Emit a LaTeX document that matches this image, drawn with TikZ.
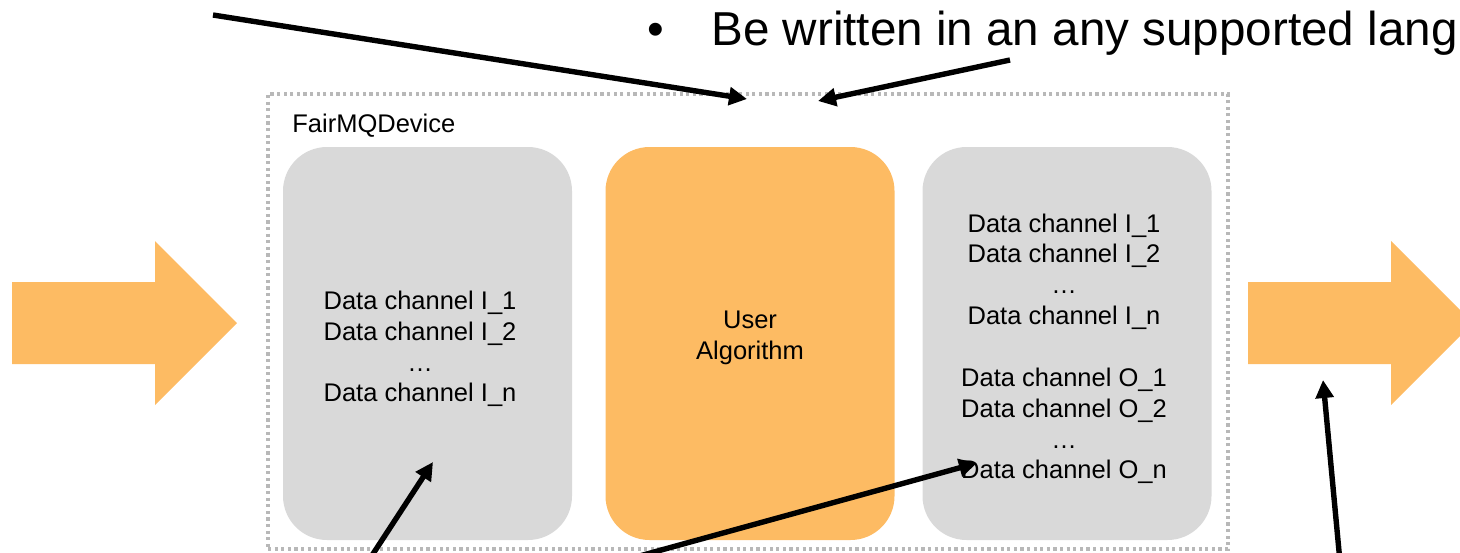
\documentclass[tikz,border=0pt]{standalone}
\usepackage{fontspec}
\setmainfont{Liberation Sans}
\usetikzlibrary{arrows.meta}
\definecolor{flow}{RGB}{253,187,99}
\definecolor{panel}{RGB}{217,217,217}
\definecolor{frame}{RGB}{184,184,184}
\tikzset{
  panelbox/.style={rounded corners=22pt, minimum width=144.5pt, minimum height=196.5pt, inner sep=0pt},
  chantext/.style={align=center, font=\fontsize{12.75}{15.4}\selectfont, inner sep=0pt},
  pointer/.style={line width=2.7pt, -{Triangle[length=9pt,width=8.8pt]}},
  bigflow/.style={fill=flow},
}
\begin{document}
\begin{tikzpicture}[x=0.5pt,y=-0.5pt]
\useasboundingbox (0,0) rectangle (1460,552);
\clip (0,0) rectangle (1460,552);

% heading line
\node[anchor=base, inner sep=0pt, font=\fontsize{23.8}{28}\selectfont] (bullet) at (656,45) {•};
\node[anchor=base west, inner sep=0pt, font=\fontsize{23.8}{28}\selectfont] (heading) at (711,45) {Be written in an any supported lang};

% device frame
\node[draw=frame, line width=1.6pt, dash pattern=on 1.6pt off 1.7pt, minimum width=480pt, minimum height=227.5pt, inner sep=0pt] (device) at (748,321.5) {};
\node[anchor=base west, inner sep=0pt, font=\fontsize{12.75}{15.4}\selectfont] (devlabel) at (292,132) {FairMQDevice};

% panels
\node[panelbox, fill=panel] (inpanel) at (427.5,343.5) {};
\node[panelbox, fill=flow] (algpanel) at (750,343.5) {};
\node[panelbox, fill=panel] (outpanel) at (1067,343.5) {};

\node[chantext] (intext) at (420,349) {Data channel I\_1\\Data channel I\_2\\…\\Data channel I\_n};
\node[chantext] (algtext) at (750,337.5) {User\\Algorithm};
\node[chantext] (outin) at (1064,271.5) {Data channel I\_1\\Data channel I\_2\\…\\Data channel I\_n};
\node[chantext] (outout) at (1064,426) {Data channel O\_1\\Data channel O\_2\\…\\Data channel O\_n};

% large flow arrows
\fill[bigflow] (12,282) -- (155,282) -- (155,241) -- (237,323) -- (155,405) -- (155,364) -- (12,364) -- cycle;
\fill[bigflow] (1248,282) -- (1391,282) -- (1391,241) -- (1473,323) -- (1391,405) -- (1391,364) -- (1248,364) -- cycle;

% pointer coordinates
\coordinate (p1s) at (213,15);
\coordinate (p1e) at (747,99);
\coordinate (p2s) at (1010,60);
\coordinate (p2e) at (818,101);
\coordinate (p3s) at (369,560);
\coordinate (p3e) at (433,462);
\coordinate (p4s) at (625,560);
\coordinate (p4e) at (977,463);
\coordinate (p5s) at (1340,562);
\coordinate (p5e) at (1323,380);

\draw[pointer] (p1s) -- (p1e);
\draw[pointer] (p2s) -- (p2e);
\draw[pointer] (p3s) -- (p3e);
\draw[pointer] (p4s) -- (p4e);
\draw[pointer] (p5s) -- (p5e);
\end{tikzpicture}
\end{document}
